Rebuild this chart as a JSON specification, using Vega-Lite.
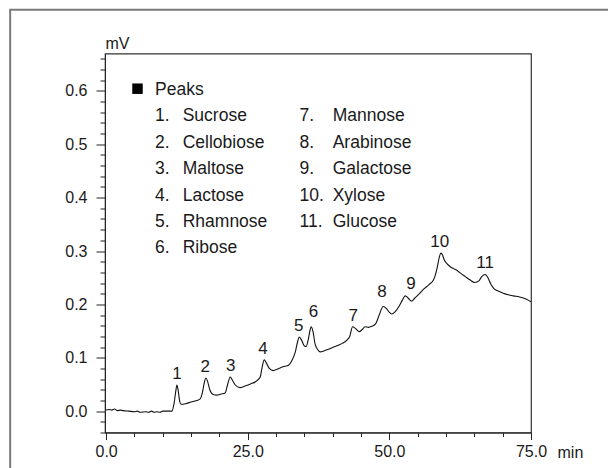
{
  "$schema": "https://vega.github.io/schema/vega-lite/v6.json",
  "width": 426,
  "height": 379,
  "autosize": {"type": "none"},
  "padding": {"left": 105, "top": 53.5, "right": 77, "bottom": 35.5},
  "background": "white",
  "config": {
    "view": {"stroke": "#333", "strokeWidth": 1.2},
    "font": "Liberation Sans",
    "text": {"font": "Liberation Sans", "color": "#1a1a1a"}
  },
  "datasets": {
    "trace": [
      {"t": 0, "v": 0.002}, {"t": 0.5, "v": 0.003}, {"t": 1.0, "v": 0.002}, {"t": 1.5, "v": 0.004},
      {"t": 2.0, "v": 0.001}, {"t": 2.5, "v": 0.002}, {"t": 3.0, "v": 0.001}, {"t": 4.0, "v": 0.0},
      {"t": 5.0, "v": -0.001}, {"t": 5.5, "v": 0.0}, {"t": 6.0, "v": -0.002}, {"t": 7.0, "v": -0.001},
      {"t": 7.5, "v": -0.002}, {"t": 8.0, "v": 0.0}, {"t": 8.5, "v": -0.002}, {"t": 9.0, "v": -0.001},
      {"t": 9.5, "v": -0.002}, {"t": 10.0, "v": 0.0}, {"t": 11.0, "v": 0.0}, {"t": 11.6, "v": 0.0},
      {"t": 12.0, "v": 0.015}, {"t": 12.3, "v": 0.038}, {"t": 12.5, "v": 0.049}, {"t": 12.7, "v": 0.04},
      {"t": 13.0, "v": 0.018}, {"t": 13.2, "v": 0.013}, {"t": 14.0, "v": 0.014}, {"t": 15.0, "v": 0.017},
      {"t": 16.0, "v": 0.02}, {"t": 16.6, "v": 0.023}, {"t": 17.0, "v": 0.035}, {"t": 17.3, "v": 0.052},
      {"t": 17.6, "v": 0.062}, {"t": 17.9, "v": 0.056}, {"t": 18.3, "v": 0.04}, {"t": 18.9, "v": 0.031},
      {"t": 19.5, "v": 0.03}, {"t": 20.3, "v": 0.032}, {"t": 21.0, "v": 0.034}, {"t": 21.4, "v": 0.048},
      {"t": 21.9, "v": 0.064}, {"t": 22.3, "v": 0.058}, {"t": 22.8, "v": 0.049}, {"t": 23.6, "v": 0.044},
      {"t": 24.5, "v": 0.047}, {"t": 25.5, "v": 0.051}, {"t": 26.5, "v": 0.056}, {"t": 27.2, "v": 0.064},
      {"t": 27.5, "v": 0.08}, {"t": 27.9, "v": 0.096}, {"t": 28.3, "v": 0.09}, {"t": 28.8, "v": 0.08},
      {"t": 29.5, "v": 0.076}, {"t": 30.3, "v": 0.079}, {"t": 31.2, "v": 0.083}, {"t": 32.2, "v": 0.086},
      {"t": 32.8, "v": 0.095}, {"t": 33.4, "v": 0.111}, {"t": 33.8, "v": 0.13}, {"t": 34.1, "v": 0.139},
      {"t": 34.5, "v": 0.133}, {"t": 35.0, "v": 0.122}, {"t": 35.3, "v": 0.121}, {"t": 35.7, "v": 0.135},
      {"t": 36.0, "v": 0.152}, {"t": 36.2, "v": 0.158}, {"t": 36.5, "v": 0.15}, {"t": 36.9, "v": 0.125},
      {"t": 37.3, "v": 0.116}, {"t": 37.8, "v": 0.111}, {"t": 38.5, "v": 0.113}, {"t": 39.5, "v": 0.117},
      {"t": 40.4, "v": 0.121}, {"t": 41.5, "v": 0.126}, {"t": 42.5, "v": 0.133}, {"t": 43.0, "v": 0.14},
      {"t": 43.5, "v": 0.158}, {"t": 44.0, "v": 0.155}, {"t": 44.7, "v": 0.149}, {"t": 45.2, "v": 0.153},
      {"t": 45.7, "v": 0.158}, {"t": 46.3, "v": 0.157}, {"t": 46.9, "v": 0.159}, {"t": 47.6, "v": 0.164},
      {"t": 48.2, "v": 0.18}, {"t": 48.9, "v": 0.196}, {"t": 49.5, "v": 0.192}, {"t": 50.0, "v": 0.185},
      {"t": 50.4, "v": 0.182}, {"t": 51.0, "v": 0.186}, {"t": 51.8, "v": 0.198}, {"t": 52.3, "v": 0.208},
      {"t": 52.8, "v": 0.216}, {"t": 53.3, "v": 0.212}, {"t": 53.9, "v": 0.206}, {"t": 54.5, "v": 0.212},
      {"t": 55.3, "v": 0.22}, {"t": 56.0, "v": 0.228}, {"t": 57.0, "v": 0.237}, {"t": 57.8, "v": 0.246},
      {"t": 58.2, "v": 0.258}, {"t": 58.5, "v": 0.272}, {"t": 58.8, "v": 0.288}, {"t": 59.1, "v": 0.296},
      {"t": 59.4, "v": 0.292}, {"t": 59.7, "v": 0.283}, {"t": 60.2, "v": 0.276}, {"t": 60.7, "v": 0.271},
      {"t": 61.3, "v": 0.267}, {"t": 61.9, "v": 0.264}, {"t": 62.6, "v": 0.258}, {"t": 63.4, "v": 0.252},
      {"t": 64.2, "v": 0.246}, {"t": 65.1, "v": 0.241}, {"t": 65.8, "v": 0.244}, {"t": 66.3, "v": 0.252},
      {"t": 66.9, "v": 0.256}, {"t": 67.4, "v": 0.25}, {"t": 67.9, "v": 0.238}, {"t": 68.5, "v": 0.229},
      {"t": 69.2, "v": 0.225}, {"t": 70.1, "v": 0.221}, {"t": 71.0, "v": 0.218}, {"t": 71.9, "v": 0.216},
      {"t": 73.0, "v": 0.214}, {"t": 73.9, "v": 0.211}, {"t": 74.5, "v": 0.208}, {"t": 75.0, "v": 0.205}
    ],
    "peaks": [
      {"label": "1", "t": 12.5, "v": 0.049},
      {"label": "2", "t": 17.5, "v": 0.062},
      {"label": "3", "t": 22.0, "v": 0.064},
      {"label": "4", "t": 27.7, "v": 0.096},
      {"label": "5", "t": 34.0, "v": 0.139},
      {"label": "6", "t": 36.6, "v": 0.165},
      {"label": "7", "t": 43.6, "v": 0.158},
      {"label": "8", "t": 48.7, "v": 0.202},
      {"label": "9", "t": 53.8, "v": 0.218},
      {"label": "10", "t": 58.9, "v": 0.296},
      {"label": "11", "t": 66.9, "v": 0.256}
    ],
    "legend": [
      {"col": 0, "row": 0, "num": "", "name": "Peaks"},
      {"col": 0, "row": 1, "num": "1.", "name": "Sucrose"},
      {"col": 0, "row": 2, "num": "2.", "name": "Cellobiose"},
      {"col": 0, "row": 3, "num": "3.", "name": "Maltose"},
      {"col": 0, "row": 4, "num": "4.", "name": "Lactose"},
      {"col": 0, "row": 5, "num": "5.", "name": "Rhamnose"},
      {"col": 0, "row": 6, "num": "6.", "name": "Ribose"},
      {"col": 1, "row": 1, "num": "7.", "name": "Mannose"},
      {"col": 1, "row": 2, "num": "8.", "name": "Arabinose"},
      {"col": 1, "row": 3, "num": "9.", "name": "Galactose"},
      {"col": 1, "row": 4, "num": "10.", "name": "Xylose"},
      {"col": 1, "row": 5, "num": "11.", "name": "Glucose"}
    ]
  },
  "layer": [
    {
      "data": {"name": "trace"},
      "mark": {"type": "line", "strokeOpacity": 0},
      "encoding": {
        "x": {
          "field": "t", "type": "quantitative",
          "scale": {"domain": [-0.2, 75], "nice": false, "zero": false},
          "axis": {
            "orient": "bottom",
            "values": [0,5,10,15,20,30,35,40,45,55,60,65,70],
            "labels": false, "domain": false, "grid": false, "title": null,
            "tickSize": 4, "tickColor": "#222"
          }
        },
        "y": {
          "field": "v", "type": "quantitative",
          "scale": {"domain": [-0.04, 0.67], "nice": false, "zero": false},
          "axis": {
            "orient": "left",
            "values": [-0.04,-0.02,0.02,0.04,0.06,0.08,0.12,0.14,0.16,0.18,0.22,0.24,0.26,0.28,0.32,0.34,0.36,0.38,0.42,0.44,0.46,0.48,0.52,0.54,0.56,0.58,0.62,0.64,0.66],
            "labels": false, "domain": false, "grid": false, "title": null,
            "tickSize": 5, "tickColor": "#222"
          }
        }
      }
    },
    {
      "layer": [
        {
          "data": {"values": [{}]},
          "mark": {"type": "rect", "filled": false, "stroke": "#7a7a7a", "strokeWidth": 2, "clip": false},
          "encoding": {
            "x": {"datum": -16.94, "type": "quantitative"},
            "x2": {"datum": 95},
            "y": {"datum": 0.752, "type": "quantitative"},
            "y2": {"datum": -0.3}
          }
        },
        {
          "data": {"name": "trace"},
          "mark": {"type": "line", "color": "#111", "strokeWidth": 1.1, "interpolate": "monotone"},
          "encoding": {
            "x": {
              "field": "t", "type": "quantitative",
              "scale": {"domain": [-0.2, 75], "nice": false, "zero": false},
              "axis": {
                "orient": "bottom",
                "values": [0, 25, 50, 75],
                "format": ".1f",
                "tickSize": 7,
                "labelFont": "Liberation Sans", "labelFontSize": 16, "labelColor": "#1a1a1a",
                "labelPadding": 4, "labelFlush": false, "labelOverlap": false, "grid": false,
                "domainColor": "#222", "tickColor": "#222",
                "title": "min", "titleX": 452, "titleY": 20, "titleAlign": "left", "titleBaseline": "middle",
                "titleFont": "Liberation Sans", "titleFontSize": 16, "titleFontWeight": "normal", "titleColor": "#1a1a1a"
              }
            },
            "y": {
              "field": "v", "type": "quantitative",
              "scale": {"domain": [-0.04, 0.67], "nice": false, "zero": false},
              "axis": {
                "orient": "left",
                "values": [0, 0.1, 0.2, 0.3, 0.4, 0.5, 0.6],
                "format": ".1f",
                "tickSize": 9,
                "labelFont": "Liberation Sans", "labelFontSize": 16, "labelColor": "#1a1a1a",
                "labelPadding": 9, "labelFlush": false, "labelOverlap": false, "grid": false,
                "domainColor": "#222", "tickColor": "#222",
                "title": "mV", "titleAngle": 0, "titleX": 0, "titleY": -10, "titleAlign": "left", "titleBaseline": "middle",
                "titleFont": "Liberation Sans", "titleFontSize": 16, "titleFontWeight": "normal", "titleColor": "#1a1a1a"
              }
            }
          }
        },
        {
          "data": {"name": "peaks"},
          "mark": {"type": "text", "fontSize": 17, "align": "center", "baseline": "alphabetic", "dy": -6},
          "encoding": {
            "x": {"field": "t", "type": "quantitative"},
            "y": {"field": "v", "type": "quantitative"},
            "text": {"field": "label"}
          }
        }
      ]
    },
    {
      "data": {"name": "legend"},
      "encoding": {
        "x": {"field": "col", "type": "quantitative", "scale": {"domain": [0, 1], "range": [50, 194.5]}, "axis": null},
        "y": {"field": "row", "type": "quantitative", "scale": {"domain": [0, 6], "range": [41.5, 199.9]}, "axis": null}
      },
      "layer": [
        {
          "transform": [{"filter": "datum.row == 0"}],
          "mark": {"type": "point", "shape": "square", "filled": true, "size": 110, "color": "#000", "opacity": 1, "xOffset": -17.5, "yOffset": -6.3}
        },
        {
          "transform": [{"filter": "datum.row == 0"}],
          "mark": {"type": "text", "fontSize": 17.5, "align": "left", "baseline": "alphabetic"},
          "encoding": {"text": {"field": "name"}}
        },
        {
          "transform": [{"filter": "datum.row > 0"}],
          "mark": {"type": "text", "fontSize": 17.5, "align": "left", "baseline": "alphabetic"},
          "encoding": {"text": {"field": "num"}}
        },
        {
          "transform": [{"filter": "datum.row > 0 && datum.col == 0"}],
          "mark": {"type": "text", "fontSize": 17.5, "align": "left", "baseline": "alphabetic", "dx": 27.7},
          "encoding": {"text": {"field": "name"}}
        },
        {
          "transform": [{"filter": "datum.row > 0 && datum.col == 1"}],
          "mark": {"type": "text", "fontSize": 17.5, "align": "left", "baseline": "alphabetic", "dx": 33.2},
          "encoding": {"text": {"field": "name"}}
        }
      ]
    }
  ],
  "resolve": {"scale": {"x": "independent", "y": "independent"}, "axis": {"x": "independent", "y": "independent"}}
}
